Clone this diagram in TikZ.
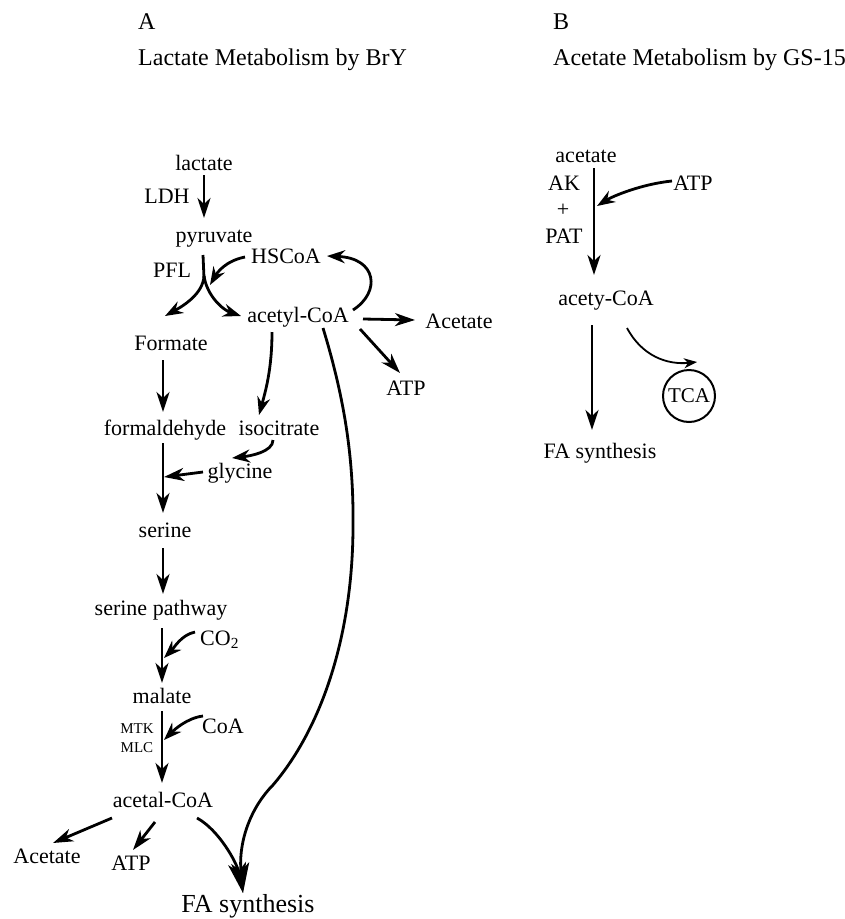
\documentclass[tikz,border=0pt]{standalone}
\usepackage{fontspec}
\setmainfont{Liberation Serif}
\usetikzlibrary{arrows.meta,calc}
\begin{document}
\begin{tikzpicture}[x=1pt,y=-1pt,
  lbl/.style={inner sep=0pt,anchor=base,font=\fontsize{22}{26}\selectfont},
  ttl/.style={inner sep=0pt,anchor=base west,font=\fontsize{24}{28}\selectfont},
  sml/.style={inner sep=0pt,anchor=base,font=\fontsize{15}{18}\selectfont},
  arr/.style={line width=2.8pt,-{Stealth[length=20pt,width=13pt,inset=6pt]}},
  curv/.style={line width=2.8pt,-{Stealth[length=18pt,width=13pt,inset=6pt]}},
  bigarr/.style={line width=2.8pt,-{Stealth[length=30pt,width=18pt,inset=8pt]}},
  thinarr/.style={line width=1.8pt,-{Stealth[length=13pt,width=10pt,inset=4pt]}},
  ln/.style={line width=2.8pt}]
\useasboundingbox (0,0) rectangle (845,919);
% titles
\node[ttl] (lA) at (138,29) {A};
\node[ttl] (tA) at (138,65) {Lactate Metabolism by BrY};
\node[ttl] (lB) at (553,29) {B};
\node[ttl] (tB) at (553,65) {Acetate Metabolism by GS-15};
% panel A nodes
\node[lbl] (lac) at (204,170) {lactate};
\node[lbl] (ldh) at (167,203) {LDH};
\node[lbl] (pyr) at (214,242) {pyruvate};
\node[lbl] (hscoa) at (286,263) {HSCoA};
\node[lbl] (pfl) at (172,277) {PFL};
\node[lbl] (acoa) at (298,322) {acetyl-CoA};
\node[lbl] (form) at (171,350) {Formate};
\node[lbl] (acet1) at (459,328) {Acetate};
\node[lbl] (atp1) at (406,395) {ATP};
\node[lbl] (fald) at (165,435) {formaldehyde};
\node[lbl] (isoc) at (279,435) {isocitrate};
\node[lbl] (gly) at (240,478) {glycine};
\node[lbl] (ser) at (165,537) {serine};
\node[lbl] (serp) at (161,615) {serine pathway};
\node[lbl,anchor=base west] (co2) at (200,645) {CO\textsubscript{2}};
\node[lbl] (mal) at (162,703) {malate};
\node[lbl] (coa) at (223,733) {CoA};
\node[sml] (mtk) at (137,733) {MTK};
\node[sml] (mlc) at (137,752) {MLC};
\node[lbl] (alcoa) at (163,807) {acetal-CoA};
\node[lbl] (acet2) at (47,863) {Acetate};
\node[lbl] (atp2) at (131,870) {ATP};
\node[lbl,font=\fontsize{26}{30}\selectfont] (fa1) at (248,912) {FA synthesis};
% panel A connectors
\draw[arr] ($(lac.base)+(0,5)$) -- ($(pyr.base)+(-10,-24)$);
\draw[ln] ($(pyr.base)+(-11,13)$) -- ($(pyr.base)+(-10,36)$);
\coordinate (split) at ($(pyr.base)+(-10,34)$);
\draw[curv] (split) .. controls +(-1,18) and +(18,-10) .. ($(form.base)+(-6,-34)$);
\draw[curv] (split) .. controls +(3,20) and +(-18,-6) .. ($(acoa.base)+(-57,-6)$);
\draw[curv] ($(hscoa.base)+(-41,-6)$) .. controls +(-20,4) and +(7,-12) .. ($(pyr.base)+(-4,43)$);
\draw[curv] ($(acoa.base)+(55,-12)$) .. controls +(28,-18) and +(50,2) .. ($(hscoa.base)+(41,-7)$);
\draw[arr] ($(acoa.base)+(65,-3)$) -- ($(acet1.base)+(-44,-8)$);
\draw[arr] ($(acoa.base)+(62,7)$) -- ($(atp1.base)+(-6,-22)$);
\draw[curv] ($(acoa.base)+(-26,10)$) .. controls +(0,38) and +(6,-22) .. ($(isoc.base)+(-20,-20)$);
\draw[bigarr] ($(acoa.base)+(25,6)$) .. controls (345,400) and (354,460) .. (353,530)
   .. controls (352,640) and (320,730) .. (273,785)
   .. controls (252,806) and (238,840) .. ($(fa1.base)+(-5,-19)$);
\draw[bigarr] ($(alcoa.base)+(34,11)$) .. controls +(22,12) and +(-6,-30) .. ($(fa1.base)+(-5,-19)$);
\draw[arr] ($(form.base)+(-8,10)$) -- ($(fald.base)+(-2,-23)$);
\draw[curv] ($(isoc.base)+(-6,5)$) .. controls +(0,12) and +(18,-2) .. ($(gly.base)+(-8,-20)$);
\draw[arr] ($(fald.base)+(-2,8)$) -- ($(ser.base)+(-2,-24)$);
\coordinate (gj) at ($(fald.base)+(-1,42)$);
\draw[arr] ($(gly.base)+(-37,-6)$) -- (gj);
\draw[arr] ($(ser.base)+(-2,11)$) -- ($(serp.base)+(2,-21)$);
\draw[arr] ($(serp.base)+(1,13)$) -- ($(mal.base)+(0,-20)$);
\coordinate (cj) at ($(serp.base)+(3,43)$);
\draw[curv] ($(co2.base west)+(-5,-13)$) .. controls +(-14,3) and +(10,-10) .. (cj);
\draw[arr] ($(mal.base)+(0,8)$) -- ($(alcoa.base)+(-1,-24)$);
\coordinate (kj) at ($(mal.base)+(2,37)$);
\draw[curv] ($(coa.base)+(-20,-17)$) .. controls +(-16,2) and +(10,-10) .. (kj);
\draw[arr] ($(alcoa.base)+(-51,11)$) -- ($(acet2.base)+(6,-20)$);
\draw[arr] ($(alcoa.base)+(-8,15)$) -- ($(atp2.base)+(2,-20)$);
% panel B nodes
\node[lbl] (acetB) at (586,162) {acetate};
\node[lbl] (ak) at (564,190) {AK};
\node[inner sep=0pt,font=\fontsize{22}{26}\selectfont] (plus) at (563,210) {+};
\node[lbl] (pat) at (564,243) {PAT};
\node[lbl] (atpB) at (693,190) {ATP};
\node[lbl] (acyB) at (606,305) {acety-CoA};
\node[lbl] (faB) at (600,458) {FA synthesis};
\node[circle,draw,line width=2pt,minimum size=52pt,inner sep=0pt,font=\fontsize{21}{24}\selectfont] (tca) at (689,396) {TCA};
% panel B connectors
\draw[arr] ($(acetB.base)+(8,6)$) -- ($(acyB.base)+(-12,-30)$);
\coordinate (bj) at ($(acetB.base)+(11,44)$);
\draw[curv] ($(atpB.base)+(-21,-9)$) .. controls +(-30,3) and +(16,-10) .. (bj);
\draw[arr] ($(acyB.base)+(-14,20)$) -- ($(faB.base)+(-8,-28)$);
\draw[thinarr] ($(acyB.base)+(21,23)$) .. controls +(15,28) and +(-30,3) .. ($(tca.north)+(8,-7)$);
\end{tikzpicture}
\end{document}
